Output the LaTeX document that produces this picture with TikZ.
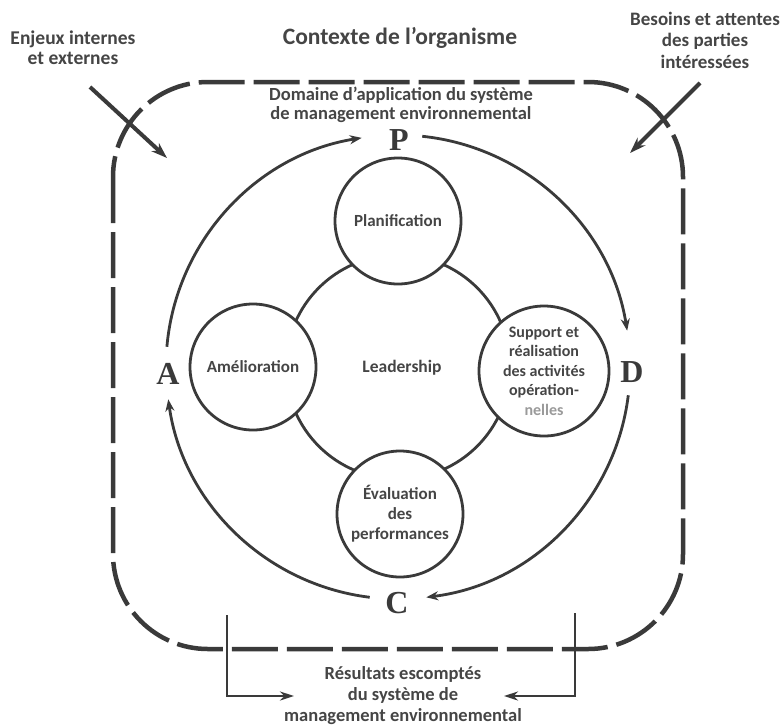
\documentclass[tikz,border=0pt]{standalone}
\usepackage{fontspec}
\setmainfont{Carlito}
\newfontfamily\pdcafont{Liberation Serif}
\usetikzlibrary{arrows.meta}
\definecolor{ink}{HTML}{3A3A3A}
\definecolor{txt}{HTML}{454545}
\definecolor{faint}{HTML}{9A9A9A}
\begin{document}
\begin{tikzpicture}[x=1pt,y=-1pt,
  outerline/.style={draw=ink,line width=4.5pt,dash pattern=on 46pt off 9pt,rounded corners=95pt},
  ringline/.style={draw=ink,line width=2.8pt},
  phase/.style={circle,draw=ink,line width=2.8pt,fill=white,minimum size=126pt,inner sep=0pt,
    align=center,text=txt,font=\bfseries\fontsize{17}{20}\selectfont},
  pdca/.style={draw=ink,line width=2.8pt,-{Stealth[length=12pt,width=9pt]}},
  letter/.style={text=ink,font=\pdcafont\bfseries\fontsize{32}{32}\selectfont,inner sep=0pt},
  lbl/.style={text=txt,align=center,font=\bfseries\fontsize{19}{21.5}\selectfont},
  cross/.style={draw=ink,line width=4pt,-{Stealth[length=16pt,width=11pt]}},
  feedarrow/.style={draw=ink,line width=2.5pt,-{Stealth[length=14pt,width=9pt]}}
]
\useasboundingbox (0,0) rectangle (783,726);
\fill[white] (0,0) rectangle (783,726);

% outer context box
\draw[outerline] (113,82) rectangle (683,649);

% titles and labels
\node[text=txt,font=\bfseries\fontsize{23.5}{26}\selectfont] (title) at (400,38) {Contexte de l'organisme};
\node[lbl,font=\bfseries\fontsize{19.5}{20}\selectfont] (enjeux) at (73,48) {Enjeux internes\\et externes};
\node[lbl] (besoins) at (705,40) {Besoins et attentes\\des parties\\intéressées};
\node[lbl,font=\bfseries\fontsize{18.5}{19}\selectfont,inner sep=1pt] (domaine) at (401,105) {Domaine d'application du système\\de management environnemental};
\node[lbl,font=\bfseries\fontsize{18.5}{21}\selectfont] (result) at (403,696) {Résultats escomptés\\du système de\\management environnemental};

% crossing arrows
\coordinate (e1) at (90,87);
\coordinate (e2) at (167,158);
\coordinate (b1) at (700,83);
\coordinate (b2) at (630,153);
\draw[cross] (e1) -- (e2);
\draw[cross] (b1) -- (b2);

% feedback to results
\coordinate (l1) at (227,615);
\coordinate (l2) at (227,696);
\coordinate (l3) at (294,696);
\coordinate (r1) at (575,613);
\coordinate (r2) at (575,696);
\coordinate (r3) at (504,696);
\draw[feedarrow] (l1) -- (l2) -- (l3);
\draw[feedarrow] (r1) -- (r2) -- (r3);

% PDCA ring
\coordinate (O) at (398,367);
\draw[pdca] ([shift={(185:232)}]O) arc[start angle=185,end angle=261,radius=232];
\draw[pdca] ([shift={(276:232)}]O) arc[start angle=276,end angle=351,radius=232];
\draw[pdca] ([shift={(7:232)}]O) arc[start angle=7,end angle=83,radius=232];
\draw[pdca] ([shift={(97:232)}]O) arc[start angle=97,end angle=172,radius=232];
\node[letter] (P) at (399,140) {P};
\node[letter] (D) at (632,372) {D};
\node[letter] (C) at (397,603) {C};
\node[letter] (A) at (168,374) {A};

% leadership ring
\draw[ringline] (O) circle[radius=112];
\node[text=txt,font=\bfseries\fontsize{17.5}{20}\selectfont] (lead) at (402,368) {Leadership};
\node[phase] (plan) at (398,221) {Planification};
\node[phase] (amel) at (253,367) {Amélioration};
\node[phase,minimum size=130pt,font=\bfseries\fontsize{16}{19.5}\selectfont] (supp) at (544,371) {Support et\\réalisation\\des activités\\opération-\\\textcolor{faint}{nelles}};
\node[phase] (eval) at (400,514) {Évaluation\\des\\performances};
\end{tikzpicture}
\end{document}
